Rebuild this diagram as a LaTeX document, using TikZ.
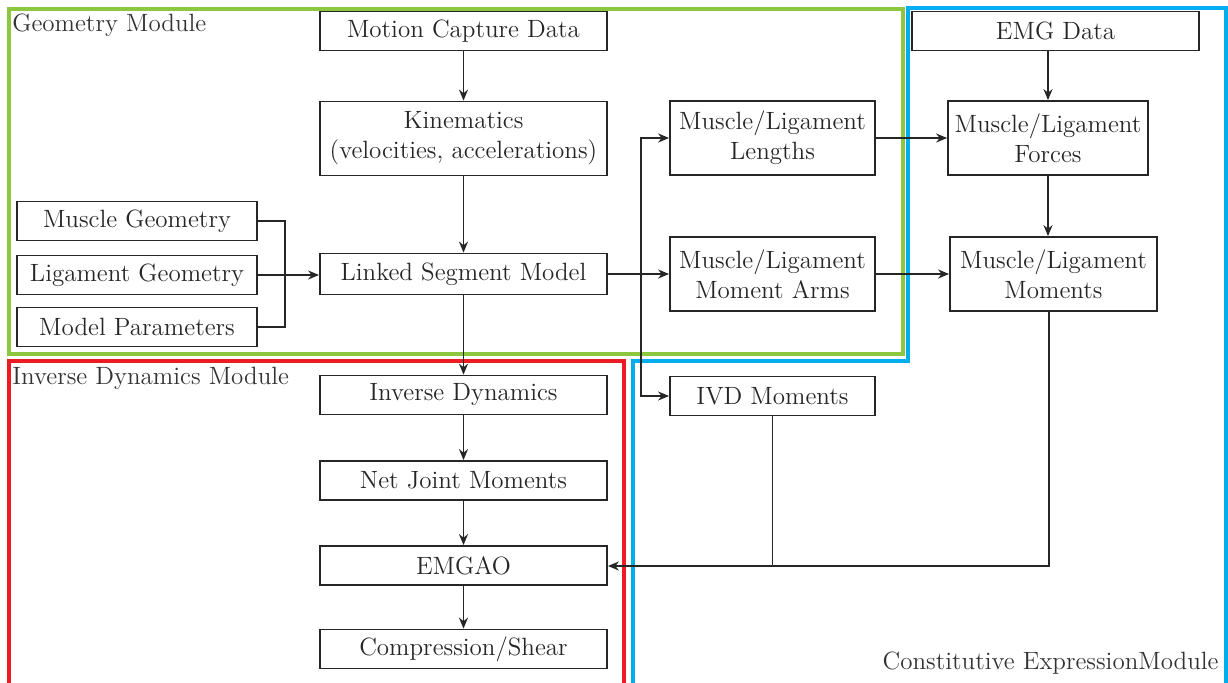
\documentclass[tikz,border=0pt]{standalone}
\usetikzlibrary{arrows.meta}
\definecolor{geomgreen}{HTML}{8DC63F}
\definecolor{invred}{HTML}{ED1C24}
\definecolor{constblue}{HTML}{00AEEF}
\begin{document}
\begin{tikzpicture}[x=0.5pt,y=-0.5pt,
  font=\fontsize{12.5}{15}\selectfont,
  box/.style={draw=black!85, line width=0.9pt, align=center, inner sep=0pt, text=black!85},
  wide/.style={box, minimum width=143.5pt},
  mid/.style={box, minimum width=102.5pt},
  side/.style={box, minimum width=120pt},
  one/.style={minimum height=19.5pt},
  two/.style={minimum height=37pt},
  link/.style={draw=black!85, line width=0.85pt},
  arr/.style={link, -{Stealth[length=5.5pt,width=4.5pt]}},
  module/.style={line width=2pt},
  modlabel/.style={text=black!80, inner sep=0pt}]
\useasboundingbox (0,0) rectangle (1228,682);

% module frames
\draw[module, geomgreen] (9,9) rectangle (903,354);
\draw[module, invred] (9,361) rectangle (624,690);
\draw[module, constblue] (908,8) -- (1226,8) -- (1226,690) -- (633,690) -- (633,361) -- (908,361) -- cycle;

\node[modlabel, anchor=west] (geolab) at (12,25) {Geometry Module};
\node[modlabel, anchor=west] (invlab) at (12,378) {Inverse Dynamics Module};
\node[modlabel, anchor=east] (conlab) at (1219,663) {Constitutive ExpressionModule};

% geometry module
\node[wide, one] (mocap) at (463.5,31) {Motion Capture Data};
\node[wide, two] (kin) at (463.5,138.5) {Kinematics\\(velocities, accelerations)};
\node[wide, minimum height=20.5pt] (lsm) at (463.5,274) {Linked Segment Model};
\node[side, one] (mgeo) at (137,221) {Muscle Geometry};
\node[side, one] (lgeo) at (137,275) {Ligament Geometry};
\node[side, one] (mpar) at (137,327) {Model Parameters};
\node[mid, two] (len) at (772.5,138) {Muscle/Ligament\\Lengths};
\node[mid, two] (arms) at (772.5,274) {Muscle/Ligament\\Moment Arms};

% constitutive expression module
\node[mid, one] (ivd) at (772.5,396) {IVD Moments};
\node[wide, one] (emg) at (1055.5,31) {EMG Data};
\node[box, minimum width=100pt, two] (forces) at (1048,138) {Muscle/Ligament\\Forces};
\node[box, minimum width=103.5pt, two] (mom) at (1053.5,274) {Muscle/Ligament\\Moments};

% inverse dynamics module
\node[wide, one] (invd) at (463.5,395) {Inverse Dynamics};
\node[wide, one] (njm) at (463.5,480.5) {Net Joint Moments};
\node[wide, one] (emgao) at (463.5,565.5) {EMGAO};
\node[wide, one] (comp) at (463.5,649) {Compression/Shear};

\coordinate (gj) at (285,275);
\coordinate (split) at (641,274);
\coordinate (bus) at (1049,566);

% connectors
\draw[arr] (mocap) -- (kin);
\draw[arr] (kin) -- (lsm);
\draw[link] (mgeo.east) -| (gj);
\draw[link] (mpar.east) -| (gj);
\draw[arr] (lgeo.east) -- (lsm.west |- lgeo.east);
\draw[arr] (lsm.east) -- (arms.west);
\draw[arr] (split) |- (len.west);
\draw[arr] (split) |- (ivd.west);
\draw[arr] (lsm) -- (invd);
\draw[arr] (invd) -- (njm);
\draw[arr] (njm) -- (emgao);
\draw[arr] (emgao) -- (comp);
\draw[arr] (len.east) -- (forces.west |- len.east);
\draw[arr] (emg.south -| forces.north) -- (forces.north);
\draw[arr] (forces.south) -- (forces.south |- mom.north);
\draw[arr] (arms.east) -- (mom.west |- arms.east);
\draw[arr] (mom.south -| bus) -- (bus) -- (emgao.east |- bus);
\draw[link] (ivd.south) -- (ivd.south |- bus);
\end{tikzpicture}
\end{document}
